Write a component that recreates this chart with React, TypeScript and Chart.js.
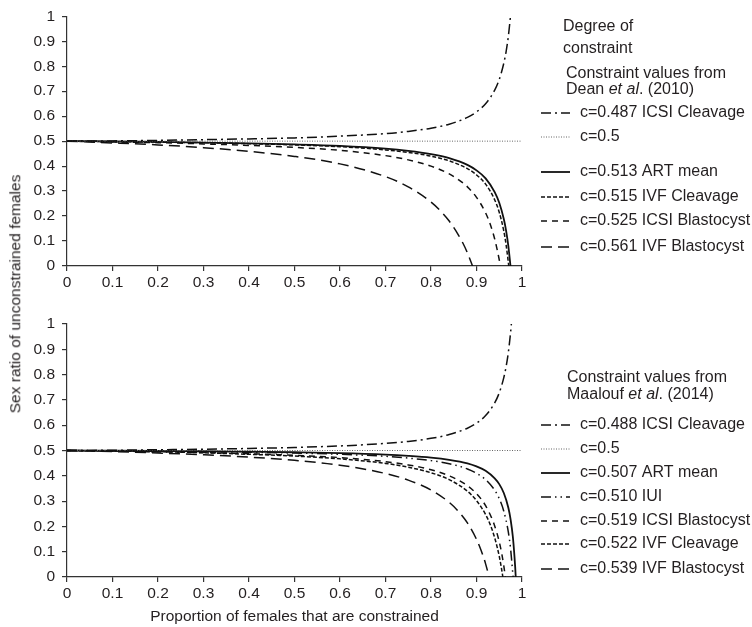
import React, { useEffect, useRef } from "react";
import { Chart, registerables } from "chart.js";

Chart.register(...registerables);

type XY = [number, number];

// ---------- Data: top panel, Dean et al. (2010) ----------
const deanLabels = [
  "c=0.487 ICSI Cleavage",
  "c=0.5",
  "c=0.513 ART mean",
  "c=0.515 IVF Cleavage",
  "c=0.525 ICSI Blastocyst",
  "c=0.561 IVF Blastocyst",
];
const deanIcsiCleavage: XY[] = [[0,0.5],[0.1,0.501],[0.2,0.503],[0.3,0.506],[0.4,0.509],[0.5,0.513],[0.6,0.52],[0.7,0.53],[0.75,0.539],[0.8,0.552],[0.84,0.568],[0.88,0.595],[0.9,0.617],[0.92,0.65],[0.94,0.704],[0.95,0.747],[0.96,0.812],[0.965,0.858],[0.97,0.92],[0.9747,1]];
const deanHalf: XY[] = [[0,0.5],[1,0.5]];
const deanArtMean: XY[] = [[0,0.5],[0.1,0.499],[0.2,0.497],[0.3,0.494],[0.4,0.491],[0.5,0.487],[0.6,0.481],[0.7,0.47],[0.75,0.461],[0.8,0.448],[0.84,0.432],[0.88,0.405],[0.9,0.383],[0.92,0.351],[0.94,0.296],[0.95,0.253],[0.96,0.188],[0.965,0.142],[0.97,0.08],[0.9747,0]];
const deanIvfCleavage: XY[] = [[0,0.5],[0.1,0.498],[0.2,0.496],[0.3,0.494],[0.4,0.49],[0.5,0.485],[0.6,0.478],[0.7,0.465],[0.75,0.455],[0.8,0.44],[0.84,0.421],[0.88,0.39],[0.9,0.365],[0.92,0.328],[0.94,0.265],[0.95,0.215],[0.96,0.14],[0.965,0.086],[0.9709,0]];
const deanIcsiBlastocyst: XY[] = [[0,0.5],[0.1,0.497],[0.2,0.494],[0.3,0.489],[0.4,0.483],[0.5,0.475],[0.6,0.463],[0.7,0.442],[0.75,0.425],[0.8,0.4],[0.84,0.369],[0.86,0.346],[0.88,0.317],[0.9,0.275],[0.92,0.213],[0.93,0.168],[0.94,0.108],[0.95,0.025],[0.9524,0]];
const deanIvfBlastocyst: XY[] = [[0,0.5],[0.1,0.493],[0.2,0.485],[0.3,0.474],[0.4,0.459],[0.5,0.439],[0.6,0.409],[0.7,0.358],[0.75,0.317],[0.8,0.256],[0.82,0.222],[0.84,0.18],[0.86,0.125],[0.87,0.092],[0.88,0.053],[0.8913,0]];

// ---------- Data: bottom panel, Maalouf et al. (2014) ----------
const maaloufLabels = [
  "c=0.488 ICSI Cleavage",
  "c=0.5",
  "c=0.507 ART mean",
  "c=0.510 IUI",
  "c=0.519 ICSI Blastocyst",
  "c=0.522 IVF Cleavage",
  "c=0.539 IVF Blastocyst",
];
const maaloufIcsiCleavage: XY[] = [[0,0.5],[0.1,0.501],[0.2,0.503],[0.3,0.505],[0.4,0.508],[0.5,0.512],[0.6,0.518],[0.7,0.528],[0.75,0.536],[0.8,0.548],[0.84,0.563],[0.88,0.588],[0.9,0.608],[0.92,0.638],[0.94,0.688],[0.95,0.728],[0.96,0.788],[0.965,0.831],[0.97,0.888],[0.975,0.968],[0.9766,1]];
const maaloufHalf: XY[] = [[0,0.5],[1,0.5]];
const maaloufArtMean: XY[] = [[0,0.5],[0.1,0.499],[0.2,0.498],[0.3,0.497],[0.4,0.495],[0.5,0.493],[0.6,0.49],[0.7,0.484],[0.75,0.479],[0.8,0.472],[0.84,0.463],[0.88,0.449],[0.9,0.437],[0.92,0.42],[0.94,0.39],[0.95,0.367],[0.96,0.332],[0.97,0.274],[0.975,0.227],[0.98,0.157],[0.985,0.04],[0.9862,0]];
const maaloufIui: XY[] = [[0,0.5],[0.1,0.499],[0.2,0.498],[0.3,0.496],[0.4,0.493],[0.5,0.49],[0.6,0.485],[0.7,0.477],[0.75,0.47],[0.8,0.46],[0.84,0.448],[0.88,0.427],[0.9,0.41],[0.92,0.385],[0.94,0.343],[0.95,0.31],[0.96,0.26],[0.97,0.177],[0.975,0.11],[0.9804,0]];
const maaloufIcsiBlastocyst: XY[] = [[0,0.5],[0.1,0.498],[0.2,0.495],[0.3,0.492],[0.4,0.487],[0.5,0.481],[0.6,0.472],[0.7,0.456],[0.75,0.443],[0.8,0.424],[0.84,0.4],[0.88,0.361],[0.9,0.329],[0.92,0.282],[0.94,0.202],[0.95,0.139],[0.955,0.097],[0.96,0.044],[0.9634,0]];
const maaloufIvfCleavage: XY[] = [[0,0.5],[0.1,0.498],[0.2,0.495],[0.3,0.491],[0.4,0.485],[0.5,0.478],[0.6,0.467],[0.7,0.449],[0.75,0.434],[0.8,0.412],[0.84,0.385],[0.88,0.339],[0.9,0.302],[0.92,0.247],[0.93,0.208],[0.94,0.155],[0.95,0.082],[0.955,0.033],[0.9579,0]];
const maaloufIvfBlastocyst: XY[] = [[0,0.5],[0.1,0.496],[0.2,0.49],[0.3,0.483],[0.4,0.474],[0.5,0.461],[0.6,0.442],[0.7,0.409],[0.75,0.383],[0.8,0.344],[0.84,0.295],[0.86,0.26],[0.88,0.214],[0.9,0.149],[0.91,0.106],[0.92,0.052],[0.9277,0]];

// ---------- Text ----------
const yTitle = "Sex ratio of unconstrained females";
const xTitle = "Proportion of females that are constrained";

// ---------- Styles ----------
const FONT = '"Liberation Sans", Arial, Helvetica, sans-serif';
const TEXT = "#231f20";
const INK = "#111";

type Style = { dash: number[]; width: number; color: string };
const S_DASHDOT: Style = { dash: [10, 4, 2, 4], width: 1.5, color: INK };
const S_DOTTED: Style = { dash: [1, 1.5], width: 1, color: "#666" };
const S_SOLID: Style = { dash: [], width: 1.8, color: INK };
const S_DASHDOTDOT: Style = { dash: [10, 4, 1.5, 4, 1.5, 4], width: 1.5, color: INK };
const S_SHORT: Style = { dash: [4, 2], width: 1.5, color: INK };
const S_MEDIUM: Style = { dash: [6, 5], width: 1.5, color: INK };
const S_LONG: Style = { dash: [11, 6], width: 1.5, color: INK };

type HeaderPart = { text: string; italic?: boolean };
type Header = { x: number; y: number; parts: HeaderPart[] };
type LegendSpec = { headers: Header[]; rows: number[]; lineX0: number; lineX1: number; textX: number };

function makeLegendPlugin(spec: LegendSpec) {
  return {
    id: "panelLegend",
    afterDraw(chart: any) {
      const ctx: CanvasRenderingContext2D = chart.ctx;
      ctx.save();
      ctx.fillStyle = TEXT;
      ctx.textBaseline = "middle";
      ctx.textAlign = "left";
      for (const h of spec.headers) {
        let x = h.x;
        for (const p of h.parts) {
          ctx.font = `${p.italic ? "italic " : ""}16px ${FONT}`;
          ctx.fillText(p.text, x, h.y);
          x += ctx.measureText(p.text).width;
        }
      }
      spec.rows.forEach((y, i) => {
        const ds = chart.data.datasets[i];
        if (!ds) return;
        ctx.beginPath();
        ctx.setLineDash(ds.borderDash || []);
        ctx.lineWidth = ds.borderWidth;
        ctx.strokeStyle = ds.borderColor;
        ctx.moveTo(spec.lineX0, y);
        ctx.lineTo(spec.lineX1, y);
        ctx.stroke();
        ctx.setLineDash([]);
        ctx.fillStyle = TEXT;
        ctx.font = `16px ${FONT}`;
        ctx.fillText(ds.label, spec.textX, y);
      });
      ctx.restore();
    },
  };
}

const tickFmt = (v: any) => String(Number(Number(v).toFixed(1)));

function makeConfig(
  series: XY[][],
  labels: string[],
  styles: Style[],
  padTop: number,
  xHeight: number,
  showXTitle: boolean,
  legend: LegendSpec
): any {
  return {
    type: "line",
    data: {
      datasets: series.map((s, i) => ({
        label: labels[i],
        data: s.map(([x, y]) => ({ x, y })),
        borderColor: styles[i].color,
        borderWidth: styles[i].width,
        borderDash: styles[i].dash,
        pointRadius: 0,
        fill: false,
        cubicInterpolationMode: "monotone",
      })),
    },
    options: {
      animation: false,
      responsive: false,
      maintainAspectRatio: false,
      events: [],
      layout: { padding: { left: 0, right: 230, top: padTop, bottom: 0 } },
      plugins: { legend: { display: false }, tooltip: { enabled: false } },
      scales: {
        x: {
          type: "linear",
          min: 0,
          max: 1,
          ticks: { stepSize: 0.1, autoSkip: false, maxRotation: 0, padding: 2, color: TEXT, font: { family: FONT, size: 15.5 }, callback: tickFmt },
          grid: { display: true, drawOnChartArea: false, drawTicks: true, tickLength: 5, color: "#333", lineWidth: 1.2 },
          border: { display: true, color: "#333", width: 1.2 },
          title: {
            display: showXTitle,
            text: xTitle,
            color: TEXT,
            font: { family: FONT, size: 15.5 },
            padding: { top: 0, bottom: 1 },
          },
          afterFit: (s: any) => {
            s.height = xHeight;
          },
        },
        y: {
          type: "linear",
          min: 0,
          max: 1,
          ticks: { stepSize: 0.1, padding: 7, color: TEXT, font: { family: FONT, size: 15.5 }, callback: tickFmt },
          grid: { display: true, drawOnChartArea: false, drawTicks: true, tickLength: 5, color: "#333", lineWidth: 1.2 },
          border: { display: true, color: "#333", width: 1.2 },
          afterFit: (s: any) => {
            s.width = 67;
          },
        },
      },
    },
    plugins: [makeLegendPlugin(legend)],
  };
}

const deanSeries = [deanIcsiCleavage, deanHalf, deanArtMean, deanIvfCleavage, deanIcsiBlastocyst, deanIvfBlastocyst];
const deanStyles = [S_DASHDOT, S_DOTTED, S_SOLID, S_SHORT, S_MEDIUM, S_LONG];
const maaloufSeries = [maaloufIcsiCleavage, maaloufHalf, maaloufArtMean, maaloufIui, maaloufIcsiBlastocyst, maaloufIvfCleavage, maaloufIvfBlastocyst];
const maaloufStyles = [S_DASHDOT, S_DOTTED, S_SOLID, S_DASHDOTDOT, S_MEDIUM, S_SHORT, S_LONG];

const deanLegend: LegendSpec = {
  headers: [
    { x: 563, y: 27, parts: [{ text: "Degree of" }] },
    { x: 563, y: 49, parts: [{ text: "constraint" }] },
    { x: 566, y: 74, parts: [{ text: "Constraint values from" }] },
    { x: 566, y: 90, parts: [{ text: "Dean " }, { text: "et al", italic: true }, { text: ". (2010)" }] },
  ],
  rows: [113, 137, 172, 197, 221, 247],
  lineX0: 541,
  lineX1: 570,
  textX: 580,
};

const maaloufLegend: LegendSpec = {
  headers: [
    { x: 567, y: 78, parts: [{ text: "Constraint values from" }] },
    { x: 567, y: 95, parts: [{ text: "Maalouf " }, { text: "et al", italic: true }, { text: ". (2014)" }] },
  ],
  rows: [125, 149, 173, 197, 221, 244, 269],
  lineX0: 541,
  lineX1: 570,
  textX: 580,
};

export default function App() {
  const topRef = useRef<HTMLCanvasElement | null>(null);
  const botRef = useRef<HTMLCanvasElement | null>(null);

  useEffect(() => {
    const top = new Chart(topRef.current as HTMLCanvasElement, makeConfig(deanSeries, deanLabels, deanStyles, 15, 34, false, deanLegend));
    const bot = new Chart(botRef.current as HTMLCanvasElement, makeConfig(maaloufSeries, maaloufLabels, maaloufStyles, 24, 50, true, maaloufLegend));
    return () => {
      top.destroy();
      bot.destroy();
    };
  }, []);

  return (
    <div style={{ position: "absolute", left: 0, top: 0, width: 752, height: 627, background: "#fff", overflow: "hidden" }}>
      <canvas ref={topRef} width={752} height={300} style={{ position: "absolute", left: 0, top: 0, width: 752, height: 300 }} />
      <canvas ref={botRef} width={752} height={327} style={{ position: "absolute", left: 0, top: 300, width: 752, height: 327 }} />
      <div
        style={{
          position: "absolute",
          left: 15,
          top: 294,
          transform: "translate(-50%, -50%) rotate(-90deg)",
          whiteSpace: "nowrap",
          fontFamily: FONT,
          fontSize: 15.5,
          color: TEXT,
          lineHeight: 1,
        }}
      >
        {yTitle}
      </div>
    </div>
  );
}
